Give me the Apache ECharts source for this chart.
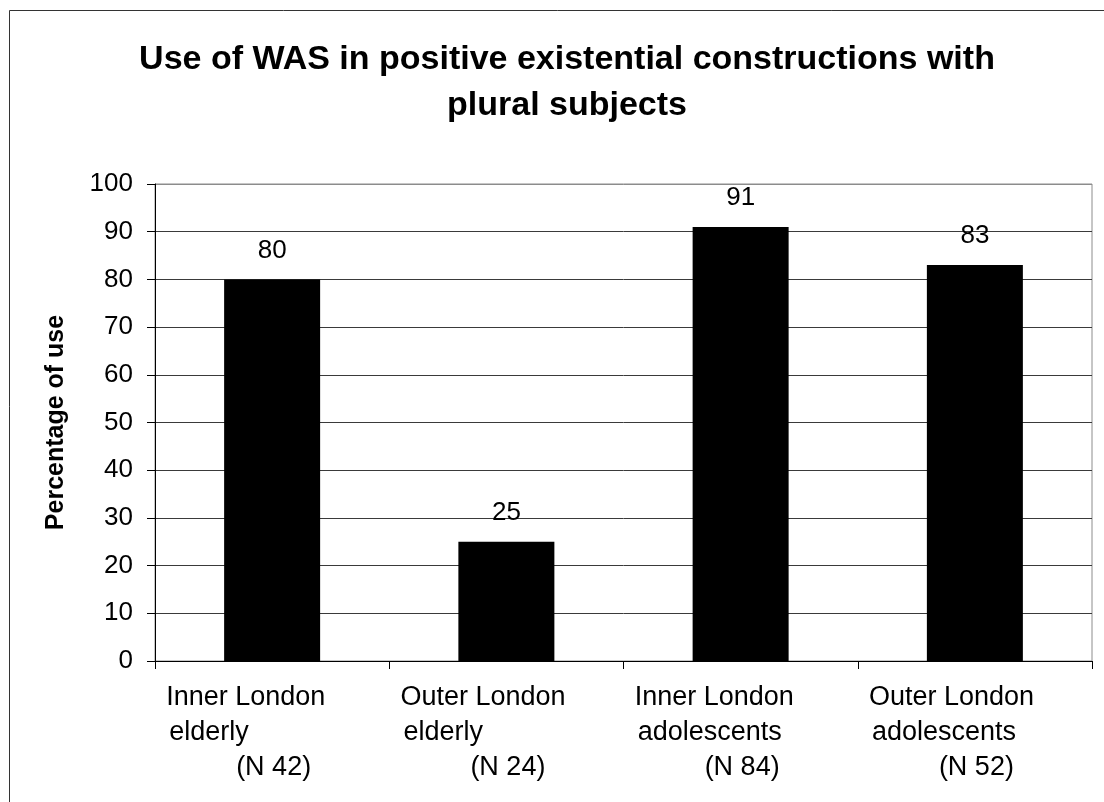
<!DOCTYPE html>
<html>
<head>
<meta charset="utf-8">
<title>Use of WAS</title>
<script src="https://cdn.jsdelivr.net/npm/echarts@6/dist/echarts.min.js"></script>
<style>
  html, body { margin: 0; padding: 0; background: #fff; }
  #chart { width: 1104px; height: 802px; }
</style>
</head>
<body>
<div id="chart"></div>
<script>
// chart data
var areas = ['Inner London', 'Outer London', 'Inner London', 'Outer London']
var ages = ['elderly', 'elderly', 'adolescents', 'adolescents']
var sizes = ['(N 42)', '(N 24)', '(N 84)', '(N 52)']
var percentUse = [80, 25, 91, 83]
var yTicks = [0, 10, 20, 30, 40, 50, 60, 70, 80, 90, 100]

var categories = areas.map(function (a, i) {
  return a + '\n' + ages[i] + '\n' + sizes[i]
})

var FONT = '"Liberation Sans", Arial, sans-serif'

var chart = echarts.init(document.getElementById('chart'))

// grid lines dark, top one grey like the plot border
var splitColors = yTicks.map(function (v, i) {
  return i === yTicks.length - 1 ? '#8c8c8c' : '#3a3a3a'
})

function lineStyle(padLeft) {
  return {
    fontSize: 27,
    lineHeight: 35,
    color: '#000',
    fontFamily: FONT,
    align: 'left',
    padding: [0, 0, 0, padLeft]
  }
}

chart.setOption({
  animation: false,
  backgroundColor: '#fff',
  textStyle: { fontFamily: FONT },
  title: {
    text: 'Use of WAS in positive existential constructions with\nplural subjects',
    left: 562,
    top: 32,
    textAlign: 'center',
    textStyle: {
      fontFamily: FONT,
      fontWeight: 'bold',
      fontSize: 34,
      lineHeight: 46,
      color: '#000'
    }
  },
  graphic: [{
    type: 'rect',
    shape: { x: 9.5, y: 10.5, width: 1200, height: 1000 },
    style: { fill: 'none', stroke: '#333', lineWidth: 1 },
    silent: true
  }],
  grid: {
    left: 155,
    right: 12,
    top: 184,
    bottom: 141,
    show: true,
    borderColor: '#8c8c8c',
    borderWidth: 1
  },
  xAxis: {
    type: 'category',
    data: categories,
    axisLine: { lineStyle: { color: '#000', width: 1 } },
    axisTick: { show: true, length: 8, lineStyle: { color: '#000' } },
    axisLabel: {
      interval: 0,
      margin: 19,
      width: 212,
      align: 'center',
      formatter: function (val) {
        var p = val.split('\n')
        return '{l1|' + p[0] + '}\n{l2|' + p[1] + '}\n{l3|' + p[2] + '}'
      },
      rich: {
        l1: lineStyle(0),
        l2: lineStyle(3),
        l3: lineStyle(70)
      }
    }
  },
  yAxis: {
    type: 'value',
    min: 0,
    max: 100,
    interval: 10,
    name: 'Percentage of use',
    nameLocation: 'middle',
    nameGap: 86,
    nameTextStyle: { fontFamily: FONT, fontWeight: 'bold', fontSize: 25, color: '#000' },
    axisLine: { show: true, lineStyle: { color: '#000', width: 1 } },
    axisTick: { show: true, length: 8, lineStyle: { color: '#000' } },
    axisLabel: { margin: 22, fontSize: 26, color: '#000', fontFamily: FONT },
    splitLine: { show: true, lineStyle: { color: splitColors, width: 1 } }
  },
  series: [{
    type: 'bar',
    data: percentUse,
    barWidth: 96,
    itemStyle: { color: '#000' },
    label: {
      show: true,
      position: 'top',
      distance: 16,
      fontSize: 26,
      color: '#000',
      fontFamily: FONT
    }
  }]
})
</script>
</body>
</html>
